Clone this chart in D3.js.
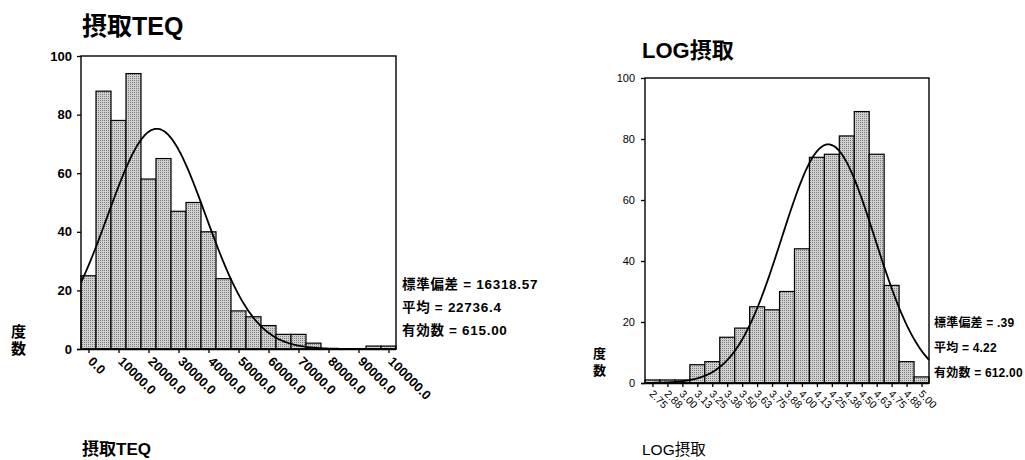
<!DOCTYPE html>
<html>
<head>
<meta charset="utf-8">
<script src="https://cdn.jsdelivr.net/npm/d3@7"></script>
<style>
  body { margin: 0; background: #fff; }
  text { font-family: "Liberation Sans", "Noto Sans CJK JP", sans-serif; fill: #000; }
</style>
</head>
<body>
<svg id="chart" width="1025" height="460"></svg>
<script>
// left histogram: 摂取TEQ
const teqCenters = [0, 5000, 10000, 15000, 20000, 25000, 30000, 35000, 40000, 45000, 50000,
  55000, 60000, 65000, 70000, 75000, 80000, 85000, 90000, 95000, 100000]
const teqCounts = [25, 88, 78, 94, 58, 65, 47, 50, 40, 24, 13, 11, 8, 5, 5, 2, 0, 0, 0, 1, 1]
const teqTicks = [0, 10000, 20000, 30000, 40000, 50000, 60000, 70000, 80000, 90000, 100000]
const teqTickLabels = ['0.0', '10000.0', '20000.0', '30000.0', '40000.0', '50000.0',
  '60000.0', '70000.0', '80000.0', '90000.0', '100000.0']
const teqStats = { sd: 16318.57, mean: 22736.4, n: 615, width: 5000 }
const teqStatLabels = ['標準偏差 = 16318.57', '平均 = 22736.4', '有効数 = 615.00']

// right histogram: LOG摂取
const logCenters = [2.75, 2.875, 3.0, 3.125, 3.25, 3.375, 3.5, 3.625, 3.75, 3.875, 4.0,
  4.125, 4.25, 4.375, 4.5, 4.625, 4.75, 4.875, 5.0]
const logCounts = [1, 1, 1, 6, 7, 15, 18, 25, 24, 30, 44, 74, 75, 81, 89, 75, 32, 7, 2]
const logTickLabels = ['2.75', '2.88', '3.00', '3.13', '3.25', '3.38', '3.50', '3.63', '3.75', '3.88',
  '4.00', '4.13', '4.25', '4.38', '4.50', '4.63', '4.75', '4.88', '5.00']
const logStats = { sd: 0.39, mean: 4.22, n: 612, width: 0.125 }
const logStatLabels = ['標準偏差 = .39', '平均 = 4.22', '有効数 = 612.00']

const yTicks = [0, 20, 40, 60, 80, 100]

const svg = d3.select('#chart')

const defs = svg.append('defs')
const pat = defs.append('pattern')
  .attr('id', 'dots')
  .attr('width', 2).attr('height', 2)
  .attr('patternUnits', 'userSpaceOnUse')
pat.append('rect').attr('width', 2).attr('height', 2).attr('fill', '#d0d0d0')
pat.append('rect').attr('width', 1).attr('height', 1).attr('fill', '#7c7c7c')

function drawHist(cfg) {
  const g = svg.append('g')
  const half = cfg.stats.width / 2
  const x = d3.scaleLinear()
    .domain([cfg.centers[0] - half, cfg.centers[cfg.centers.length - 1] + half])
    .range([cfg.left, cfg.right])
  const y = d3.scaleLinear().domain([0, 100]).range([cfg.bottom, cfg.top])

  // bars
  g.selectAll('rect.bar')
    .data(cfg.counts)
    .join('rect')
    .attr('class', 'bar')
    .attr('x', (d, i) => x(cfg.centers[i] - half))
    .attr('width', (d, i) => x(cfg.centers[i] + half) - x(cfg.centers[i] - half))
    .attr('y', d => y(d))
    .attr('height', d => y(0) - y(d))
    .attr('fill', 'url(#dots)')
    .attr('stroke', '#000')
    .attr('stroke-width', 1.2)

  // normal curve
  const s = cfg.stats
  const peak = s.n * s.width / (s.sd * Math.sqrt(2 * Math.PI))
  const xs = d3.range(200 + 1).map(i => x.domain()[0] + (x.domain()[1] - x.domain()[0]) * i / 200)
  const line = d3.line()
    .x(v => x(v))
    .y(v => y(peak * Math.exp(-0.5 * Math.pow((v - s.mean) / s.sd, 2))))
    .curve(d3.curveBasis)
  g.append('path')
    .datum(xs)
    .attr('d', line)
    .attr('fill', 'none')
    .attr('stroke', '#000')
    .attr('stroke-width', 1.8)

  // frame
  g.append('rect')
    .attr('x', cfg.left).attr('y', cfg.top)
    .attr('width', cfg.right - cfg.left).attr('height', cfg.bottom - cfg.top)
    .attr('fill', 'none').attr('stroke', '#000').attr('stroke-width', 1.4)

  // y axis
  const yAxis = d3.axisLeft(y).tickValues(yTicks).tickSize(4).tickPadding(cfg.yPad)
  const ya = g.append('g').attr('transform', `translate(${cfg.left},0)`).call(yAxis)
  ya.select('.domain').remove()
  ya.selectAll('text')
    .style('font-size', cfg.yFont + 'px')
    .style('font-weight', cfg.yWeight)
  ya.selectAll('line').attr('stroke-width', 1.3)

  // x axis ticks
  const xa = g.append('g').attr('transform', `translate(0,${cfg.bottom})`)
    .call(d3.axisBottom(x).tickValues(cfg.ticks).tickSize(4).tickFormat(''))
  xa.select('.domain').attr('d', `M${cfg.left - 4},0.5H${cfg.right}`).attr('stroke-width', 1.4)
  xa.selectAll('line').attr('stroke-width', 1.3)

  // rotated tick labels
  g.selectAll('text.xl')
    .data(cfg.ticks)
    .join('text')
    .attr('class', 'xl')
    .attr('transform', d => `translate(${x(d) + cfg.lx},${cfg.bottom + cfg.ly}) rotate(45)`)
    .attr('dy', '0.35em')
    .style('font-size', cfg.xFont + 'px')
    .style('font-weight', cfg.xWeight)
    .text((d, i) => cfg.tickLabels[i])

  // title
  g.append('text')
    .attr('x', cfg.titleX).attr('y', cfg.titleY)
    .style('font-size', cfg.titleFont + 'px')
    .style('font-weight', 'bold')
    .text(cfg.title)

  // axis caption below
  g.append('text')
    .attr('x', cfg.capX).attr('y', cfg.capY)
    .style('font-size', cfg.capFont + 'px')
    .style('font-weight', cfg.capWeight)
    .text(cfg.title)

  // 度数
  g.selectAll('text.yl')
    .data(['度', '数'])
    .join('text')
    .attr('class', 'yl')
    .attr('x', cfg.ylX)
    .attr('y', (d, i) => cfg.ylY + i * cfg.ylStep)
    .style('font-size', cfg.ylFont + 'px')
    .style('font-weight', 'bold')
    .text(d => d)

  // stats
  g.selectAll('text.st')
    .data(cfg.statLabels)
    .join('text')
    .attr('class', 'st')
    .attr('x', cfg.stX)
    .attr('y', (d, i) => cfg.stY + i * cfg.stStep)
    .attr('dy', '0.35em')
    .style('font-size', cfg.stFont + 'px')
    .style('letter-spacing', cfg.stSpace + 'px')
    .style('font-weight', 'bold')
    .text(d => d)
}

drawHist({
  centers: teqCenters, counts: teqCounts, stats: teqStats,
  ticks: teqTicks, tickLabels: teqTickLabels, statLabels: teqStatLabels,
  left: 81, right: 396, top: 56, bottom: 349,
  yPad: 5, yFont: 13, yWeight: 'bold', xFont: 13, xWeight: 'bold', lx: 2, ly: 10,
  title: '摂取TEQ', titleX: 82, titleY: 35, titleFont: 25,
  capX: 82, capY: 455, capFont: 17, capWeight: 'bold',
  ylX: 11, ylY: 337, ylStep: 17, ylFont: 15,
  stX: 402, stY: 284, stStep: 23, stFont: 13.5, stSpace: 0.7
})

drawHist({
  centers: logCenters, counts: logCounts, stats: logStats,
  ticks: logCenters, tickLabels: logTickLabels, statLabels: logStatLabels,
  left: 645, right: 929, top: 78, bottom: 383,
  yPad: 6, yFont: 11, yWeight: 'normal', xFont: 10.5, xWeight: 'normal', lx: -1, ly: 9,
  title: 'LOG摂取', titleX: 642, titleY: 58, titleFont: 22,
  capX: 642, capY: 455, capFont: 15.5, capWeight: 'normal',
  ylX: 593, ylY: 358, ylStep: 17, ylFont: 13,
  stX: 934, stY: 323, stStep: 25, stFont: 12, stSpace: 0.2
})
</script>
</body>
</html>
